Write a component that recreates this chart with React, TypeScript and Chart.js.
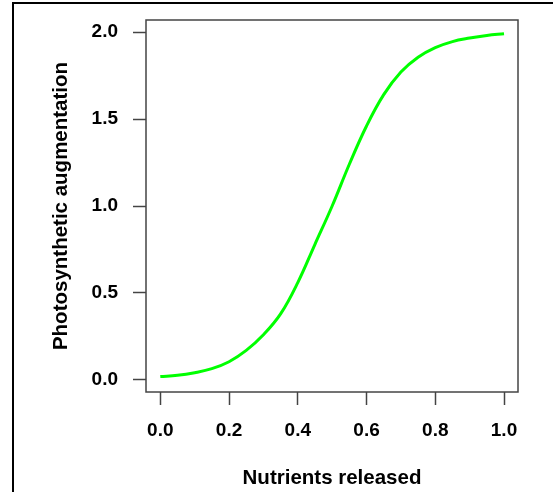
import React, { useEffect, useRef } from "react";
import { Chart, registerables } from "chart.js";

Chart.register(...registerables);

// Data
const nutrients = [0, 0.05, 0.1, 0.15, 0.2, 0.25, 0.3, 0.35, 0.4, 0.45, 0.5, 0.55, 0.6, 0.65, 0.7, 0.75, 0.8, 0.85, 0.9, 0.95, 1.0];
const augmentation = [0.02, 0.027, 0.042, 0.065, 0.105, 0.17, 0.26, 0.38, 0.56, 0.78, 1.0, 1.24, 1.46, 1.64, 1.77, 1.855, 1.91, 1.945, 1.965, 1.98, 1.99];
const xTicks = [0, 0.2, 0.4, 0.6, 0.8, 1.0];
const yTicks = [0, 0.5, 1.0, 1.5, 2.0];
const xTitle = "Nutrients released";
const yTitle = "Photosynthetic augmentation";

const FONT = "'Liberation Sans', Arial, Helvetica, sans-serif";

const framePlugin = {
  id: "frame",
  beforeDraw(chart: any) {
    const { ctx, width, height } = chart;
    ctx.save();
    ctx.fillStyle = "#ffffff";
    ctx.fillRect(0, 0, width, height);
    ctx.fillStyle = "#000000";
    ctx.fillRect(12, 2, 2, height - 2);
    ctx.fillRect(12, 2, width - 12, 2);
    ctx.restore();
  },
  afterDraw(chart: any) {
    const { ctx, chartArea: a } = chart;
    ctx.save();
    ctx.strokeStyle = "#444444";
    ctx.lineWidth = 1.5;
    ctx.strokeRect(a.left, a.top, a.right - a.left, a.bottom - a.top);
    ctx.restore();
  },
};

export default function App() {
  const ref = useRef<HTMLCanvasElement | null>(null);

  useEffect(() => {
    if (!ref.current) return;
    const chart = new Chart(ref.current, {
      type: "line",
      data: {
        datasets: [
          {
            data: nutrients.map((x, i) => ({ x, y: augmentation[i] })),
            borderColor: "#00ff00",
            borderWidth: 3,
            pointRadius: 0,
            fill: false,
            tension: 0.4,
          },
        ],
      },
      options: {
        animation: false,
        responsive: false,
        devicePixelRatio: 1,
        layout: { padding: { left: 0, top: 20, right: 35, bottom: 0 } },
        plugins: { legend: { display: false }, tooltip: { enabled: false } },
        scales: {
          x: {
            type: "linear",
            min: -0.0416,
            max: 1.0407,
            afterFit: (s: any) => {
              s.height = 100;
              s.paddingLeft = 0;
              s.paddingRight = 0;
            },
            afterBuildTicks: (s: any) => {
              s.ticks = xTicks.map((v) => ({ value: v }));
            },
            grid: {
              display: true,
              drawOnChartArea: false,
              drawTicks: true,
              tickLength: 13,
              tickColor: "#444444",
              tickWidth: 1.5,
            },
            border: { display: false },
            ticks: {
              padding: 14,
              maxRotation: 0,
              autoSkip: false,
              color: "#000000",
              font: { family: FONT, size: 19, weight: "bold" },
              callback: (v: any) => Number(v).toFixed(1),
            },
            title: {
              display: true,
              text: xTitle,
              color: "#000000",
              font: { family: FONT, size: 20.5, weight: "bold" },
              padding: { top: 0, bottom: 1 },
            },
          },
          y: {
            type: "linear",
            min: -0.069,
            max: 2.069,
            afterFit: (s: any) => {
              s.width = 146;
              s.paddingTop = 0;
              s.paddingBottom = 0;
            },
            afterBuildTicks: (s: any) => {
              s.ticks = yTicks.map((v) => ({ value: v }));
            },
            grid: {
              display: true,
              drawOnChartArea: false,
              drawTicks: true,
              tickLength: 13,
              tickColor: "#444444",
              tickWidth: 1.5,
            },
            border: { display: false },
            ticks: {
              padding: 15,
              autoSkip: false,
              color: "#000000",
              font: { family: FONT, size: 19, weight: "bold" },
              callback: (v: any) => Number(v).toFixed(1),
            },
            title: {
              display: true,
              text: yTitle,
              color: "#000000",
              font: { family: FONT, size: 20.5, weight: "bold" },
              padding: { top: 49, bottom: 0 },
            },
          },
        },
      } as any,
      plugins: [framePlugin],
    });
    return () => chart.destroy();
  }, []);

  return (
    <div style={{ position: "absolute", left: 0, top: 0, width: 553, height: 492, background: "#fff" }}>
      <canvas ref={ref} width={553} height={492} style={{ display: "block", width: 553, height: 492 }} />
    </div>
  );
}
